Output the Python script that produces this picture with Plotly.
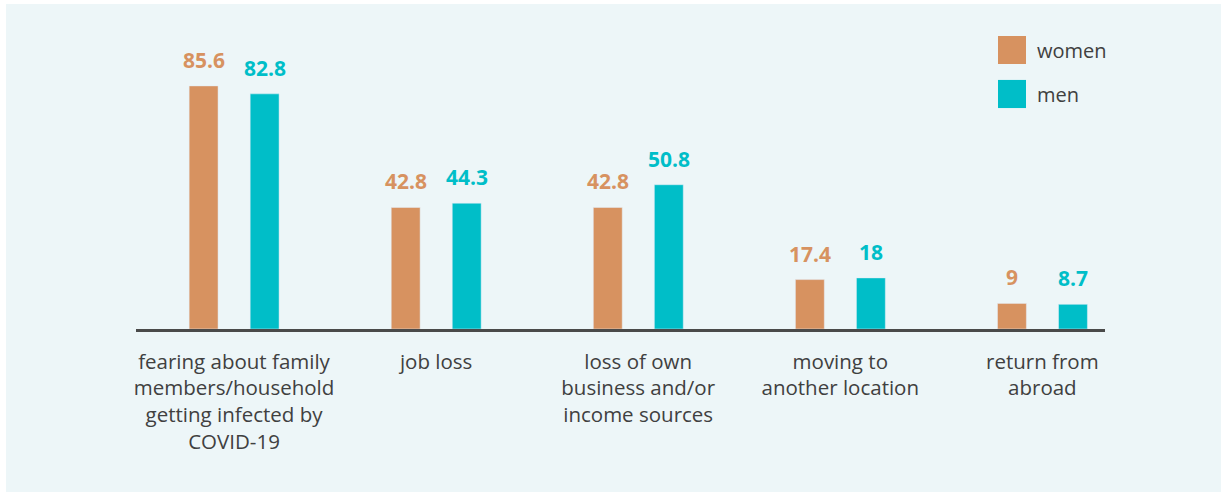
import plotly.graph_objects as go

# data
categories = ["fearing about family<br>members/household<br>getting infected by<br>COVID-19",
              "job loss",
              "loss of own<br>business and/or<br>income sources",
              "moving to<br>another location",
              "return from<br>abroad"]
women = [85.6, 42.8, 42.8, 17.4, 9]
men = [82.8, 44.3, 50.8, 18, 8.7]
series_names = ["women", "men"]

WOMEN_COLOR = "#D79260"
MEN_COLOR = "#00BEC8"
TEXT_COLOR = "#404040"
BG_COLOR = "#EDF6F8"
FONT = "Open Sans"

positions = list(range(len(categories)))
BAR_W = 0.143
OFFSETS = [-0.222, 0.08]

figure = go.Figure()
for name, values, color, off in zip(series_names, [women, men],
                                    [WOMEN_COLOR, MEN_COLOR], OFFSETS):
    figure.add_trace(go.Bar(x=positions, y=values, name=name,
                            marker_color=color, width=BAR_W, offset=off,
                            hoverinfo="skip"))
    # value labels above the bars
    for pos, val in zip(positions, values):
        figure.add_annotation(x=pos + off + BAR_W / 2, y=val,
                              text=f"<b>{val:g}</b>", showarrow=False,
                              yanchor="bottom", yshift=10,
                              font=dict(size=21, color=color, family=FONT))

figure.update_layout(width=1227, height=497,
                     margin=dict(l=136, r=122, t=45, b=168),
                     paper_bgcolor="white",
                     plot_bgcolor="rgba(0,0,0,0)",
                     barmode="overlay",
                     showlegend=False,
                     font=dict(family=FONT, color=TEXT_COLOR, size=20))

figure.update_xaxes(tickmode="array", tickvals=positions, ticktext=categories,
                    range=[-0.485, 4.31], showgrid=False, zeroline=False,
                    showline=True, linecolor="#4A4A4A", linewidth=3,
                    ticks="", ticklabelstandoff=12,
                    tickfont=dict(size=20.5, color=TEXT_COLOR, family=FONT))
figure.update_yaxes(range=[0, 100], visible=False, showgrid=False)

# background panel
figure.add_shape(type="rect", xref="paper", yref="paper",
                 x0=-0.1342, x1=1.1197, y0=-0.574, y1=1.144,
                 fillcolor=BG_COLOR, line_width=0, layer="below")

# legend drawn by hand (big square keys)
legend_rows = [(series_names[0], WOMEN_COLOR, 0.933, 1.0317, 0.982),
               (series_names[1], MEN_COLOR, 0.778, 0.877, 0.827)]
for name, color, y0, y1, ytext in legend_rows:
    figure.add_shape(type="rect", xref="paper", yref="paper",
                     x0=0.8896, x1=0.9185, y0=y0, y1=y1,
                     fillcolor=color, line_width=0)
    figure.add_annotation(xref="paper", yref="paper", x=0.928, y=ytext,
                          text=name, showarrow=False, xanchor="left",
                          yanchor="middle",
                          font=dict(size=20, color=TEXT_COLOR, family=FONT))

figure.write_html("out.html", config={"displayModeBar": False},
                  post_script="document.body.style.margin='0';")
